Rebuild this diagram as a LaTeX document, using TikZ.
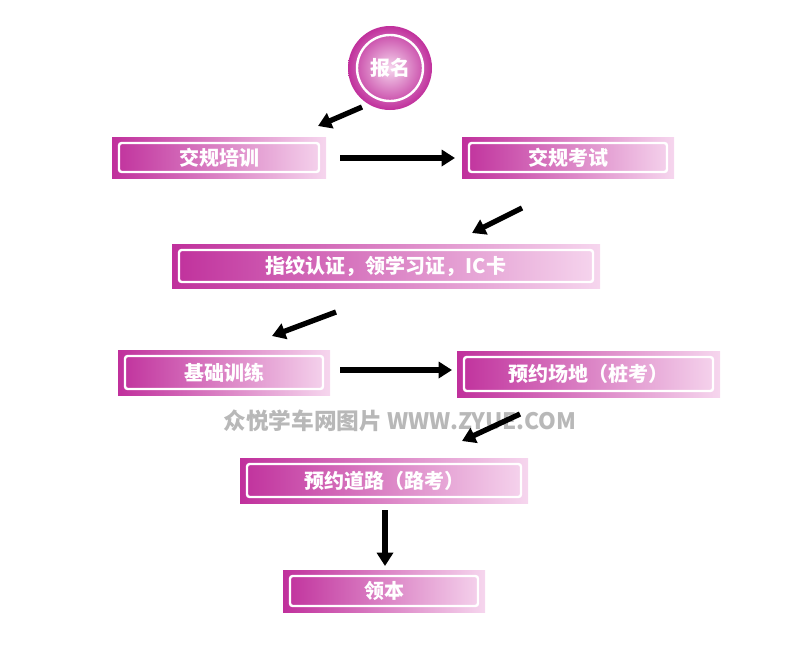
\documentclass[tikz,border=0pt]{standalone}
\usepackage{fontspec}
\setmainfont{Noto Sans CJK SC}
\usepackage{tikz}
\usetikzlibrary{arrows.meta}

\definecolor{boxdark}{HTML}{C0309C}
\definecolor{boxlight}{HTML}{F6D6EE}
\definecolor{wmgray}{HTML}{B8B8B8}

% one flow box: name, left, top, right, bottom, text
\newcommand{\flowbox}[6]{%
	\shade[left color=boxdark, right color=boxlight] (#2,#3) rectangle (#4,#5);
	\node[frame, minimum width=(#4-#2-14)*0.75pt, minimum height=(#5-#3-12)*0.75pt]
		(#1) at ({(#2+#4)/2},{(#3+#5)/2}) {#6};
}

\begin{document}
\begin{tikzpicture}[x=0.75pt, y=-0.75pt,
	frame/.style={draw=white, line width=1.8pt, rounded corners=2pt, text=white,
		font=\bfseries\fontsize{15}{15}\selectfont, inner sep=0pt},
	flow/.style={-{Triangle[length=10pt,width=12pt]}, line width=4pt, black}]
	\useasboundingbox (0,0) rectangle (800,658);

	% start circle
	\shade[inner color=boxlight, outer color=boxdark] (390,68) circle (42);
	\node[frame, circle, minimum size=66*0.75pt] (start) at (390,68) {报名};

	% boxes
	\flowbox{rules}{112}{137}{326}{178}{交规培训}
	\flowbox{exam}{462}{137}{674}{178}{交规考试}
	\flowbox{cert}{172}{244}{600}{288}{指纹认证，领学习证，IC卡}
	\flowbox{basic}{118}{350}{330}{395}{基础训练}
	\flowbox{field}{457}{351}{720}{397}{预约场地（桩考）}
	\flowbox{road}{240}{458}{528}{503}{预约道路（路考）}
	\flowbox{licence}{283}{570}{485}{612}{领本}

	% watermark
	\node[text=wmgray, font=\bfseries\fontsize{17}{17}\selectfont] (wm) at (400,421)
		{众悦学车网图片 WWW.ZYUE.COM};

	% arrow ends
	\coordinate (a1) at (362,107); \coordinate (b1) at (318,126);
	\coordinate (a2) at (340,158); \coordinate (b2) at (455,158);
	\coordinate (a3) at (522,208); \coordinate (b3) at (472,233);
	\coordinate (a4) at (336,312); \coordinate (b4) at (272,336);
	\coordinate (a5) at (340,370); \coordinate (b5) at (452,370);
	\coordinate (a6) at (520,414); \coordinate (b6) at (462,441);
	\coordinate (a7) at (385,510); \coordinate (b7) at (385,566);
	\foreach \i in {1,...,7}
		\draw[flow] (a\i) -- (b\i);
\end{tikzpicture}
\end{document}
